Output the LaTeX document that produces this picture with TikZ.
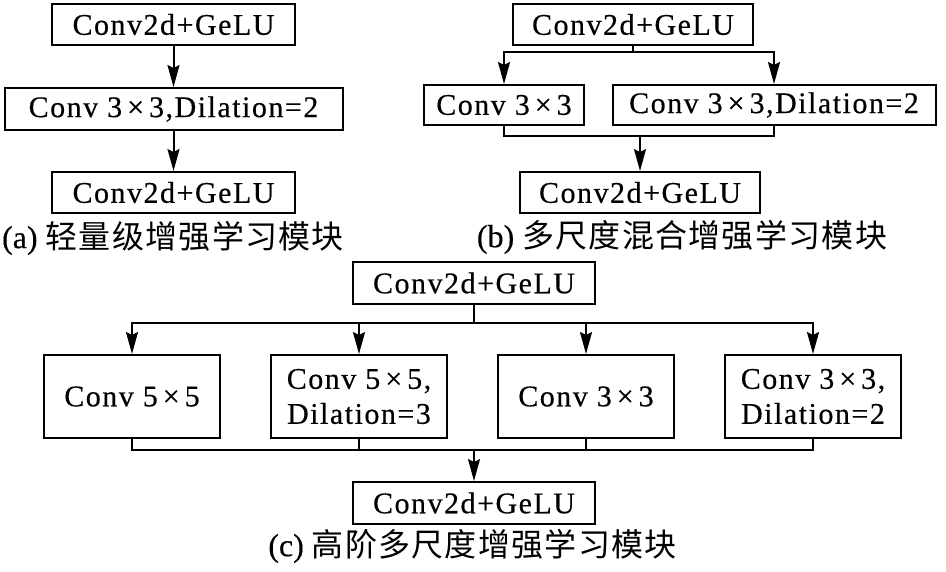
\documentclass[tikz,border=0pt]{standalone}
\usepackage{fontspec}
\setmainfont{Liberation Serif}
\newfontfamily\boxfont{Liberation Serif}[LetterSpace=5,FakeBold=0.4]
\newfontfamily\capfont{Liberation Serif}[FakeBold=0.3]
\newfontfamily\cjk{Noto Sans CJK SC}[LetterSpace=4]
\usetikzlibrary{arrows.meta}
\begin{document}
\begin{tikzpicture}[x=1pt,y=-1pt,
  box/.style={draw,line width=2pt,inner sep=0pt,align=center,
    font=\fontsize{30}{35}\selectfont\boxfont},
  ln/.style={line width=2pt},
  arr/.style={line width=2pt,-{Stealth[length=22pt,width=12pt,inset=3pt]}},
  captxt/.style={inner sep=0pt,font=\fontsize{32}{36}\selectfont}
]
\useasboundingbox (0,0) rectangle (946,571);
% (a)
\node[box,minimum width=243pt,minimum height=41pt] (a1) at (173.5,24.5) {Conv2d+GeLU};
\node[box,minimum width=338pt,minimum height=42pt] (a2) at (173.5,109) {Conv 3\,×\,3,Dilation=2};
\node[box,minimum width=243pt,minimum height=41pt] (a3) at (173.5,192.5) {Conv2d+GeLU};
\node[captxt] (capa) at (173,238) {{\capfont (a)} {\cjk 轻量级增强学习模块}};
\draw[arr] (a1) -- (a2);
\draw[arr] (a2) -- (a3);
% (b)
\node[box,minimum width=240pt,minimum height=41pt] (b1) at (633,24.5) {Conv2d+GeLU};
\node[box,minimum width=160pt,minimum height=40pt] (b2) at (504,105) {Conv 3\,×\,3};
\node[box,minimum width=323pt,minimum height=40pt] (b3) at (774,105) {Conv 3\,×\,3,Dilation=2};
\node[box,minimum width=240pt,minimum height=41pt] (b4) at (640,192.5) {Conv2d+GeLU};
\node[captxt] (capb) at (682,237) {{\capfont (b)} {\cjk 多尺度混合增强学习模块}};
\coordinate (bs) at (633,52);
\coordinate (bm) at (640,136);
\draw[ln] (b1.south) -- (bs);
\draw[arr] (bs) -| (b2.north);
\draw[arr] (bs) -| (b3.north);
\draw[ln] (b2.south) |- (bm);
\draw[ln] (b3.south) |- (bm);
\draw[arr] (bm) -- (b4.north);
% (c)
\node[box,minimum width=242pt,minimum height=42pt] (c1) at (474,283) {Conv2d+GeLU};
\node[box,minimum width=176pt,minimum height=83pt] (c2) at (132,396.5) {Conv 5\,×\,5};
\node[box,minimum width=176pt,minimum height=83pt] (c3) at (359,396.5) {Conv 5\,×\,5,\\Dilation=3};
\node[box,minimum width=176pt,minimum height=83pt] (c4) at (586,396.5) {Conv 3\,×\,3};
\node[box,minimum width=176pt,minimum height=83pt] (c5) at (813,396.5) {Conv 3\,×\,3,\\Dilation=2};
\node[box,minimum width=242pt,minimum height=42pt] (c6) at (474,503) {Conv2d+GeLU};
\node[captxt] (capc) at (472.5,546) {{\capfont (c)} {\cjk 高阶多尺度增强学习模块}};
\coordinate (cs) at (474,323);
\coordinate (cm) at (474,450);
\draw[ln] (c1.south) -- (cs);
\foreach \n in {c2,c3,c4,c5} {
  \draw[arr] (cs) -| (\n.north);
  \draw[ln] (\n.south) |- (cm);
}
\draw[arr] (cm) -- (c6.north);
\end{tikzpicture}
\end{document}
